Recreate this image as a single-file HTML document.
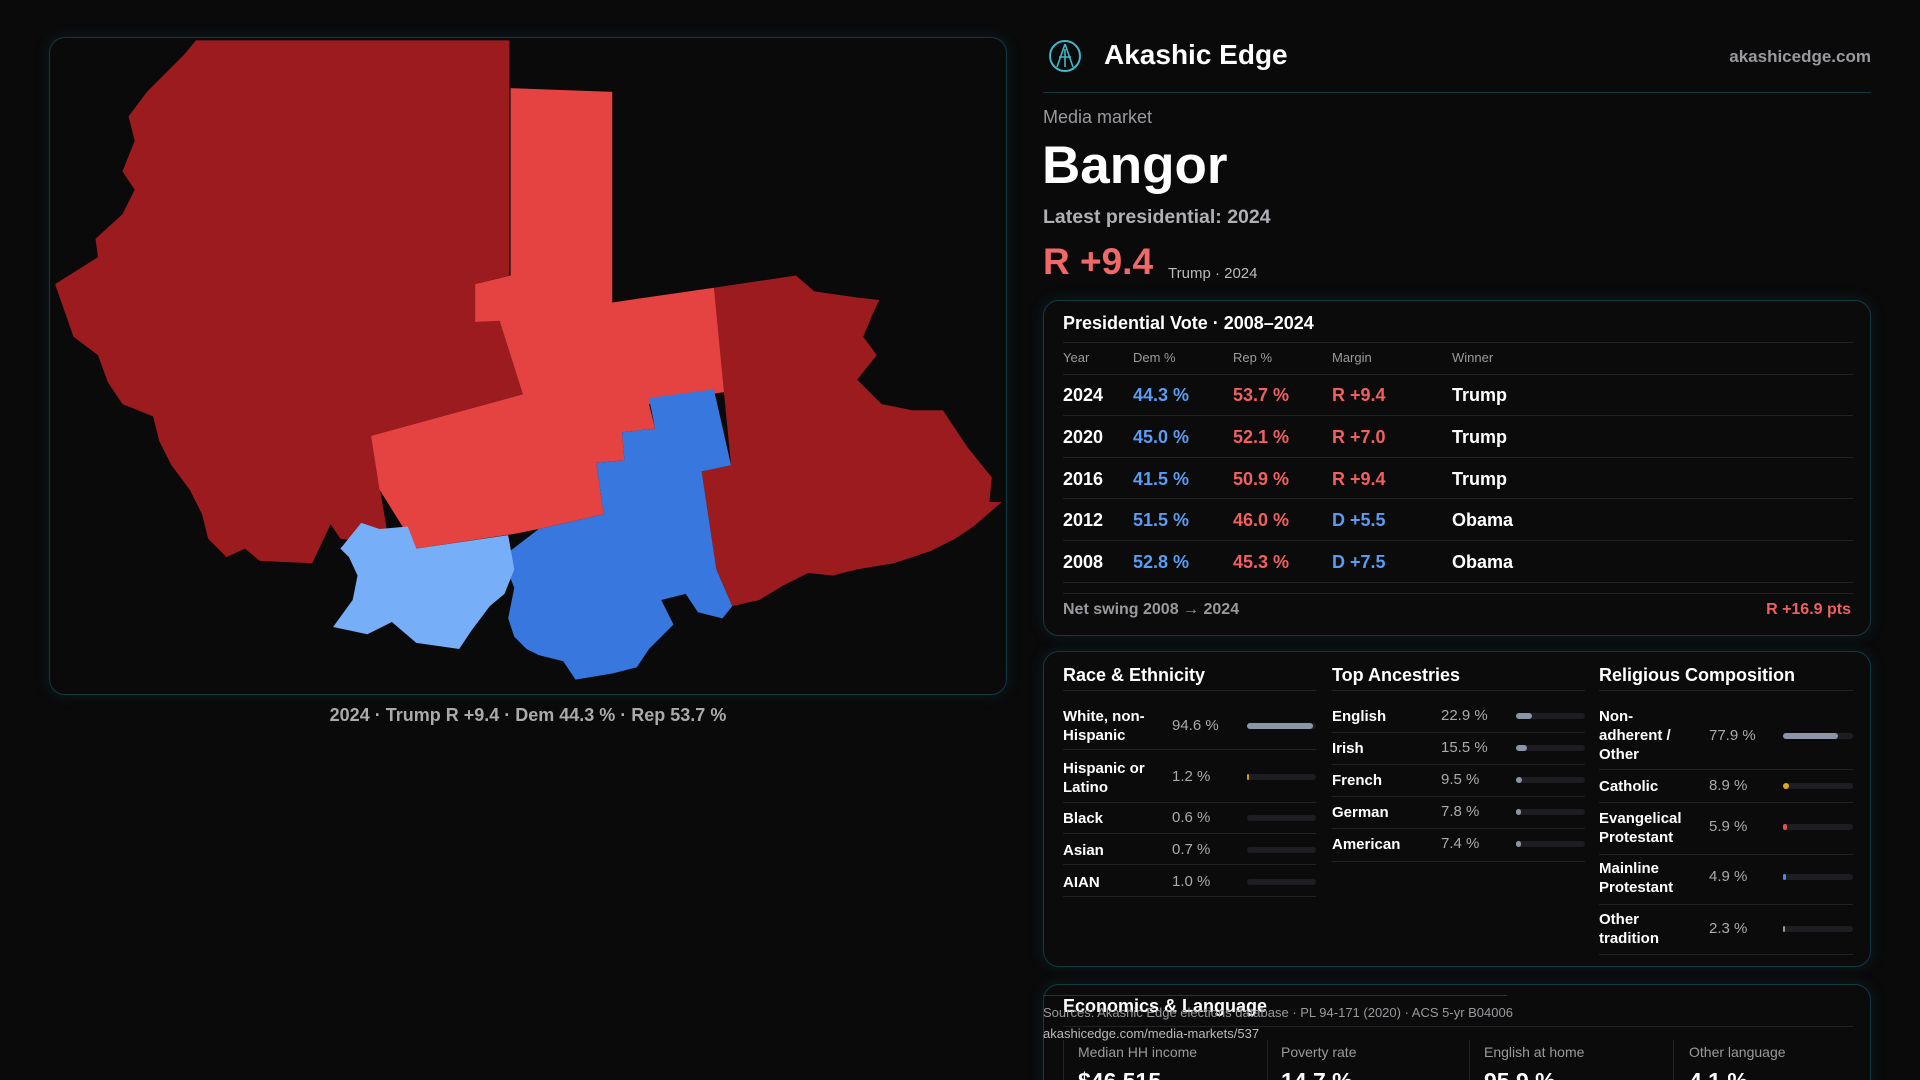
<!DOCTYPE html>
<html style="width:1920px;height:1080px;overflow:hidden"><head><meta charset="utf-8"><style>
*{margin:0;padding:0;box-sizing:border-box}
html,body{overflow:hidden}
body{width:1920px;height:1080px;background:#0a0a0b;font-family:"Liberation Sans",sans-serif;color:#fff;position:relative;overflow:hidden}
.a{position:absolute;white-space:nowrap}
.card{position:absolute;border:1px solid #123a40;border-radius:16px;background:#0b0b0c;box-shadow:0 0 14px rgba(20,90,100,.25)}
.g{color:#9a9a9e}
.r{color:#f06060}.b{color:#5a9cf2}
.hl{position:absolute;height:1px;background:#222226}
.bar{position:absolute;height:6px;border-radius:3px;background:#1e1e22}
.bar i{position:absolute;left:0;top:0;height:6px;border-radius:3px;display:block}
.lab{font-size:15px;font-weight:bold;line-height:19px}
.val{font-size:15px;color:#aaa}
</style></head><body>
<div class="card" style="left:49px;top:37px;width:958px;height:658px;background:#0a0a0b"></div>
<svg class="a" style="left:0;top:0" width="1920" height="1080" viewBox="0 0 1568 882" preserveAspectRatio="none">
<polygon fill="#9b1b1e" points="160,33 416,33 416,225 388,232 388,263 408,262 427,322 303,356 318,445 278,440 270,428 255,460 212,458 200,448 185,455 170,440 165,420 155,400 140,380 130,360 125,340 100,330 88,312 80,290 60,275 45,232 80,210 78,195 100,175 110,155 100,140 110,115 105,95 120,75 135,60 150,45"/>
<polygon fill="#e54242" points="417,72 500,75 500,247 583,235 605,318 530,330 535,350 508,353 510,376 487,378 493,420 440,432 420,436 340,448 310,400 303,356 427,322 408,262 388,263 388,232 417,225"/>
<polygon fill="#9b1b1e" points="583,235 650,225 665,238 700,243 718,245 712,258 705,275 716,290 700,310 720,330 745,335 770,335 790,365 810,390 808,410 818,410 795,430 780,440 760,450 730,460 700,465 680,470 660,468 640,478 620,490 598,495 585,465 573,385 597,380"/>
<polygon fill="#3878de" points="530,325 583,318 597,380 573,385 585,465 598,495 590,505 570,500 560,485 540,490 550,510 530,530 520,545 500,550 470,555 460,540 440,535 430,530 420,520 415,505 420,480 410,455 440,432 493,420 487,378 510,376 508,353 535,350"/>
<polygon fill="#76aef7" points="295,427 310,432 333,430 340,448 415,437 420,465 412,485 400,495 385,515 375,530 340,525 320,508 300,518 272,512 288,490 292,470 285,455 278,448"/>
</svg>
<div class="a" style="left:0;width:1056px;text-align:center;top:705px;font-size:18px;color:#aaa;font-weight:bold">2024 · Trump R +9.4 · Dem 44.3 % · Rep 53.7 %</div>

<svg class="a" style="left:1048px;top:39px" width="34" height="34" viewBox="0 0 34 34"><circle cx="17" cy="17" r="15" fill="none" stroke="#3fb7c4" stroke-width="2"/><path d="M17 5 L9 28 M17 5 L25 28 M11 18 L23 18 M17 10 L17 28" stroke="#3fb7c4" stroke-width="1.6" fill="none"/></svg>
<div class="a" style="left:1104px;top:39px;font-size:28px;font-weight:bold">Akashic Edge</div>
<div class="a g" style="right:49px;top:47px;font-size:17px;font-weight:bold">akashicedge.com</div>
<div class="hl" style="left:1043px;width:828px;top:92px;background:#153a40"></div>
<div class="a g" style="left:1043px;top:107px;font-size:18px">Media market</div>
<div class="a" style="left:1042px;top:135px;font-size:53px;font-weight:bold">Bangor</div>
<div class="a" style="left:1043px;top:206px;font-size:19.5px;font-weight:bold;color:#b0b0b4">Latest presidential: 2024</div>
<div class="a" style="left:1043px;top:241px;font-size:37px;font-weight:bold;color:#f06868">R +9.4</div>
<div class="a" style="left:1168px;top:265px;font-size:15px;color:#bbb">Trump · 2024</div>

<div class="card" style="left:1043px;top:300px;width:828px;height:336px"></div>
<div class="a" style="left:1063px;top:313px;font-size:18px;font-weight:bold">Presidential Vote · 2008–2024</div>
<div class="hl" style="left:1063px;width:790px;top:342px"></div>
<div class="a g" style="left:1063px;top:350px;font-size:13px">Year</div>
<div class="a g" style="left:1133px;top:350px;font-size:13px">Dem %</div>
<div class="a g" style="left:1233px;top:350px;font-size:13px">Rep %</div>
<div class="a g" style="left:1332px;top:350px;font-size:13px">Margin</div>
<div class="a g" style="left:1452px;top:350px;font-size:13px">Winner</div>
<div class="hl" style="left:1063px;width:790px;top:374px"></div>
<div style="position:absolute;left:1063px;top:374px;width:790px;font-size:18px;font-weight:bold">
<div style="position:relative;height:42px;border-bottom:1px solid #222226"><span class="a" style="left:0;top:11px">2024</span><span class="a b" style="left:70px;top:11px">44.3 %</span><span class="a r" style="left:170px;top:11px">53.7 %</span><span class="a r" style="left:269px;top:11px">R +9.4</span><span class="a" style="left:389px;top:11px">Trump</span></div>
<div style="position:relative;height:42px;border-bottom:1px solid #222226"><span class="a" style="left:0;top:11px">2020</span><span class="a b" style="left:70px;top:11px">45.0 %</span><span class="a r" style="left:170px;top:11px">52.1 %</span><span class="a r" style="left:269px;top:11px">R +7.0</span><span class="a" style="left:389px;top:11px">Trump</span></div>
<div style="position:relative;height:41px;border-bottom:1px solid #222226"><span class="a" style="left:0;top:11px">2016</span><span class="a b" style="left:70px;top:11px">41.5 %</span><span class="a r" style="left:170px;top:11px">50.9 %</span><span class="a r" style="left:269px;top:11px">R +9.4</span><span class="a" style="left:389px;top:11px">Trump</span></div>
<div style="position:relative;height:42px;border-bottom:1px solid #222226"><span class="a" style="left:0;top:11px">2012</span><span class="a b" style="left:70px;top:11px">51.5 %</span><span class="a r" style="left:170px;top:11px">46.0 %</span><span class="a b" style="left:269px;top:11px">D +5.5</span><span class="a" style="left:389px;top:11px">Obama</span></div>
<div style="position:relative;height:42px;border-bottom:1px solid #222226"><span class="a" style="left:0;top:11px">2008</span><span class="a b" style="left:70px;top:11px">52.8 %</span><span class="a r" style="left:170px;top:11px">45.3 %</span><span class="a b" style="left:269px;top:11px">D +7.5</span><span class="a" style="left:389px;top:11px">Obama</span></div>
</div>
<div class="hl" style="left:1063px;width:790px;top:593px"></div>
<div class="a g" style="left:1063px;top:601px;font-size:16px;font-weight:bold">Net swing 2008 → 2024</div>
<div class="a r" style="right:69px;top:601px;font-size:16px;font-weight:bold">R +16.9 pts</div>

<div class="card" style="left:1043px;top:651px;width:828px;height:316px"></div>
<div class="a" style="left:1063px;top:665px;font-size:18px;font-weight:bold">Race &amp; Ethnicity</div>
<div class="a" style="left:1332px;top:665px;font-size:18px;font-weight:bold">Top Ancestries</div>
<div class="a" style="left:1599px;top:665px;font-size:18px;font-weight:bold">Religious Composition</div>
<div class="hl" style="left:1063px;width:253px;top:690px"></div>
<div class="hl" style="left:1332px;width:253px;top:690px"></div>
<div class="hl" style="left:1599px;width:254px;top:690px"></div>

<div class="a lab" style="left:1063px;top:707px">White, non-<br>Hispanic</div><div class="a val" style="left:1172px;top:717px">94.6 %</div><div class="bar" style="left:1247px;top:723px;width:69px"><i style="width:66px;background:#8a96a8"></i></div>
<div class="hl" style="left:1063px;width:253px;top:749px"></div>
<div class="a lab" style="left:1063px;top:759px">Hispanic or<br>Latino</div><div class="a val" style="left:1172px;top:768px">1.2 %</div><div class="bar" style="left:1247px;top:774px;width:69px"><i style="width:2px;background:#d49a20"></i></div>
<div class="hl" style="left:1063px;width:253px;top:802px"></div>
<div class="a lab" style="left:1063px;top:809px">Black</div><div class="a val" style="left:1172px;top:809px">0.6 %</div><div class="bar" style="left:1247px;top:815px;width:69px"></div>
<div class="hl" style="left:1063px;width:253px;top:833px"></div>
<div class="a lab" style="left:1063px;top:841px">Asian</div><div class="a val" style="left:1172px;top:841px">0.7 %</div><div class="bar" style="left:1247px;top:847px;width:69px"></div>
<div class="hl" style="left:1063px;width:253px;top:864px"></div>
<div class="a lab" style="left:1063px;top:873px">AIAN</div><div class="a val" style="left:1172px;top:873px">1.0 %</div><div class="bar" style="left:1247px;top:879px;width:69px"></div>
<div class="hl" style="left:1063px;width:253px;top:896px"></div>

<div class="a lab" style="left:1332px;top:707px">English</div><div class="a val" style="left:1441px;top:707px">22.9 %</div><div class="bar" style="left:1516px;top:713px;width:69px"><i style="width:16px;background:#8a96a8"></i></div>
<div class="hl" style="left:1332px;width:253px;top:732px"></div>
<div class="a lab" style="left:1332px;top:739px">Irish</div><div class="a val" style="left:1441px;top:739px">15.5 %</div><div class="bar" style="left:1516px;top:745px;width:69px"><i style="width:11px;background:#8a96a8"></i></div>
<div class="hl" style="left:1332px;width:253px;top:764px"></div>
<div class="a lab" style="left:1332px;top:771px">French</div><div class="a val" style="left:1441px;top:771px">9.5 %</div><div class="bar" style="left:1516px;top:777px;width:69px"><i style="width:6px;background:#8a96a8"></i></div>
<div class="hl" style="left:1332px;width:253px;top:796px"></div>
<div class="a lab" style="left:1332px;top:803px">German</div><div class="a val" style="left:1441px;top:803px">7.8 %</div><div class="bar" style="left:1516px;top:809px;width:69px"><i style="width:5px;background:#8a96a8"></i></div>
<div class="hl" style="left:1332px;width:253px;top:828px"></div>
<div class="a lab" style="left:1332px;top:835px">American</div><div class="a val" style="left:1441px;top:835px">7.4 %</div><div class="bar" style="left:1516px;top:841px;width:69px"><i style="width:5px;background:#8a96a8"></i></div>
<div class="hl" style="left:1332px;width:253px;top:861px"></div>

<div class="a lab" style="left:1599px;top:707px">Non-<br>adherent /<br>Other</div><div class="a val" style="left:1709px;top:727px">77.9 %</div><div class="bar" style="left:1783px;top:733px;width:70px"><i style="width:55px;background:#8a96a8"></i></div>
<div class="hl" style="left:1599px;width:254px;top:769px"></div>
<div class="a lab" style="left:1599px;top:777px">Catholic</div><div class="a val" style="left:1709px;top:777px">8.9 %</div><div class="bar" style="left:1783px;top:783px;width:70px"><i style="width:6px;background:#e0a820"></i></div>
<div class="hl" style="left:1599px;width:254px;top:802px"></div>
<div class="a lab" style="left:1599px;top:809px">Evangelical<br>Protestant</div><div class="a val" style="left:1709px;top:818px">5.9 %</div><div class="bar" style="left:1783px;top:824px;width:70px"><i style="width:4px;background:#e05050"></i></div>
<div class="hl" style="left:1599px;width:254px;top:854px"></div>
<div class="a lab" style="left:1599px;top:859px">Mainline<br>Protestant</div><div class="a val" style="left:1709px;top:868px">4.9 %</div><div class="bar" style="left:1783px;top:874px;width:70px"><i style="width:3px;background:#4a8ae8"></i></div>
<div class="hl" style="left:1599px;width:254px;top:904px"></div>
<div class="a lab" style="left:1599px;top:910px">Other<br>tradition</div><div class="a val" style="left:1709px;top:920px">2.3 %</div><div class="bar" style="left:1783px;top:926px;width:70px"><i style="width:2px;background:#999"></i></div>
<div class="hl" style="left:1599px;width:254px;top:954px"></div>

<div style="position:absolute;left:0;top:0;width:1920px;height:1080px;overflow:hidden">
<div class="card" style="left:1043px;top:984px;width:828px;height:130px"></div>
<div class="hl" style="left:1043px;width:464px;top:995px;background:#173a40"></div>
<div class="a" style="left:1063px;top:996px;font-size:18px;font-weight:bold">Economics &amp; Language</div>
<div class="a g" style="left:1043px;top:1005px;font-size:13px">Sources: Akashic Edge elections database · PL 94-171 (2020) · ACS 5-yr B04006</div>
<div class="a" style="left:1043px;top:1026px;font-size:13px;color:#bbb">akashicedge.com/media-markets/537</div>
<div class="hl" style="left:1063px;width:790px;top:1026px"></div>
<div class="a" style="left:1063px;top:1040px;width:1px;height:40px;background:#222"></div>
<div class="a" style="left:1267px;top:1040px;width:1px;height:40px;background:#222"></div>
<div class="a" style="left:1469px;top:1040px;width:1px;height:40px;background:#222"></div>
<div class="a" style="left:1673px;top:1040px;width:1px;height:40px;background:#222"></div>
<div class="a g" style="left:1078px;top:1044px;font-size:14px">Median HH income</div>
<div class="a g" style="left:1281px;top:1044px;font-size:14px">Poverty rate</div>
<div class="a g" style="left:1484px;top:1044px;font-size:14px">English at home</div>
<div class="a g" style="left:1689px;top:1044px;font-size:14px">Other language</div>
<div class="a" style="left:1078px;top:1068px;font-size:23px;font-weight:bold">$46,515</div>
<div class="a" style="left:1281px;top:1068px;font-size:23px;font-weight:bold">14.7 %</div>
<div class="a" style="left:1484px;top:1068px;font-size:23px;font-weight:bold">95.9 %</div>
<div class="a" style="left:1689px;top:1068px;font-size:23px;font-weight:bold">4.1 %</div>
</div>
</body></html>
